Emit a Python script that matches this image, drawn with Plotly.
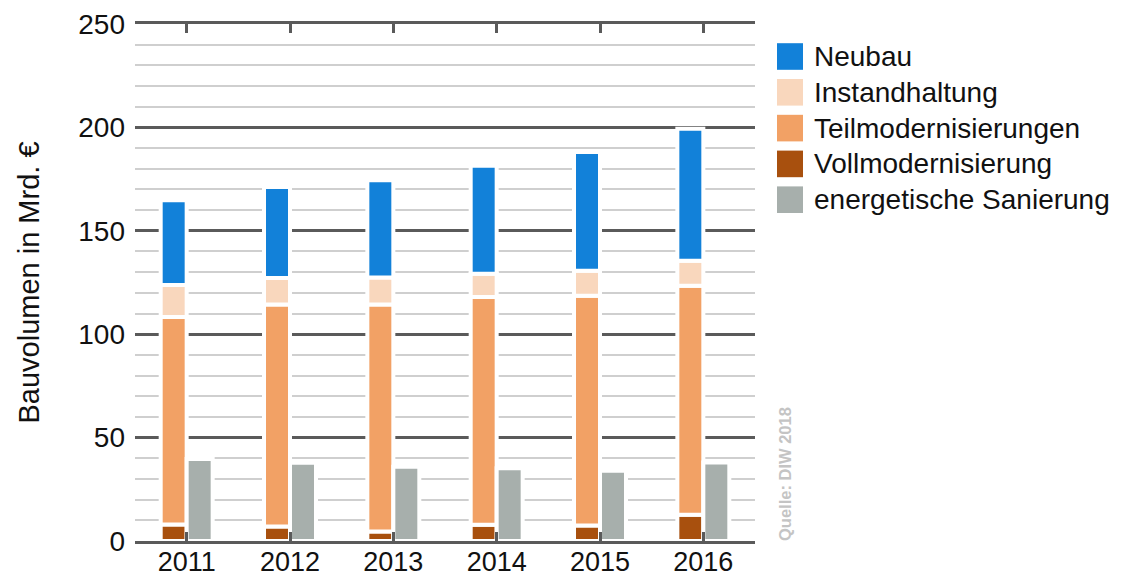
import numpy as np
import plotly.graph_objects as go

# ---- data (Mrd. €) ----
years = ["2011", "2012", "2013", "2014", "2015", "2016"]
vollmodernisierung = [8.0, 7.0, 4.6, 7.9, 7.5, 12.7]
teilmodernisierungen = [100.3, 107.4, 109.8, 110.1, 111.1, 110.7]
instandhaltung = [15.5, 12.8, 13.0, 11.2, 12.1, 12.1]
neubau = [41.0, 44.0, 47.0, 52.3, 57.4, 63.8]
energetische_sanierung = [39.6, 37.8, 35.9, 35.2, 34.0, 38.0]

series_names = ["Neubau", "Instandhaltung", "Teilmodernisierungen",
                "Vollmodernisierung", "energetische Sanierung"]
series_colors = ["#1281d9", "#f9d7bd", "#f2a165", "#a8500e", "#a7afac"]

FONT = "Liberation Sans, Arial, sans-serif"
OFF = 8  # page body margin
W, H = 1126 - OFF, 578 - OFF
# plot area in window pixels: x 135..755, y 24..541
L, T = 135 - OFF, 24 - OFF
R = W - (755 - OFF)
B = H - (541 - OFF)
PW, PH = W - L - R, H - T - B


def px(x, y):
    """window pixel -> paper coords (for layout items only)"""
    return (x - 135) / PW, (541 - y) / PH


fig = go.Figure()

stack_order = [
    ("Vollmodernisierung", vollmodernisierung),
    ("Teilmodernisierungen", teilmodernisierungen),
    ("Instandhaltung", instandhaltung),
    ("Neubau", neubau),
]
base = np.zeros(len(years))
for name, vals in stack_order:
    col = series_colors[series_names.index(name)]
    fig.add_trace(go.Bar(
        x=years, y=vals, base=base.copy(), name=name,
        offsetgroup="stack", marker=dict(color=col, line=dict(color="white", width=4)),
        showlegend=False,
    ))
    base = base + np.array(vals)

fig.add_trace(go.Bar(
    x=years, y=energetische_sanierung, name="energetische Sanierung",
    offsetgroup="energy",
    marker=dict(color=series_colors[4], line=dict(color="white", width=4)),
    showlegend=False,
))

# manual legend (large swatches)
shapes = []
annotations = []
sw_x0, sw_x1 = 777, 803
y_first, step, half = 56.5, 35.8, 13.3
for i, (nm, col) in enumerate(zip(series_names, series_colors)):
    yc = y_first + i * step
    x0, y0 = px(sw_x0, yc + half)
    x1, y1 = px(sw_x1, yc - half)
    shapes.append(dict(type="rect", xref="paper", yref="paper", x0=x0, x1=x1,
                       y0=y0, y1=y1, fillcolor=col, line=dict(width=0)))
    tx, ty = px(812, yc)
    annotations.append(dict(text=nm, xref="paper", yref="paper", x=tx, y=ty,
                            xanchor="left", yanchor="middle", showarrow=False,
                            font=dict(family=FONT, size=28, color="#111111")))

sx, sy = px(785, 474)
annotations.append(dict(text="<b>Quelle: DIW 2018</b>", xref="paper", yref="paper",
                        x=sx, y=sy, textangle=-90, showarrow=False,
                        xanchor="center", yanchor="middle",
                        font=dict(family=FONT, size=16.5, color="#c4c4c4")))

fig.update_layout(
    width=W, height=H,
    margin=dict(l=L, r=R, t=T, b=B, autoexpand=False),
    paper_bgcolor="white", plot_bgcolor="white",
    barmode="group", bargap=0.497, bargroupgap=0.0,
    font=dict(family=FONT, size=28, color="#111111"),
    shapes=shapes, annotations=annotations,
    showlegend=False,
)
fig.update_xaxes(
    type="category", showgrid=False, showline=True, linecolor="#5a5a5a",
    linewidth=3, mirror="ticks", ticks="inside", ticklen=9, tickwidth=3,
    tickcolor="#5a5a5a", tickfont=dict(size=27), zeroline=False,
    ticklabelstandoff=-5,
)
fig.update_yaxes(
    range=[0, 250], dtick=50, showgrid=True, gridcolor="#5a5a5a", gridwidth=2.5,
    minor=dict(dtick=10, showgrid=True, gridcolor="#cfcfcf", gridwidth=1.5),
    zeroline=False, showline=False, ticks="", tickfont=dict(size=28),
    ticklabelstandoff=9,
    title=dict(text="Bauvolumen in Mrd. €", font=dict(size=29), standoff=30),
)

fig.write_html("out.html")
